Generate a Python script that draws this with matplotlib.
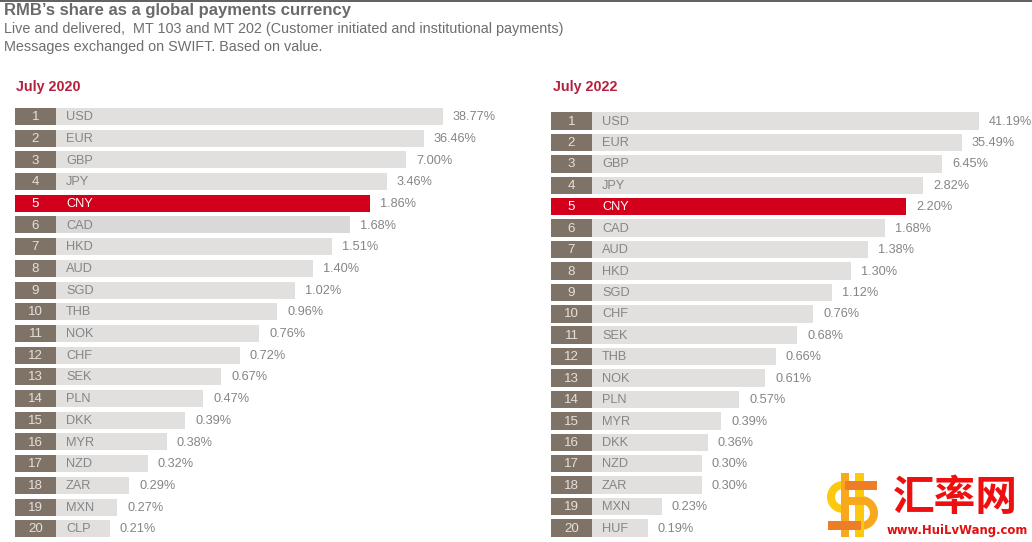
import matplotlib
matplotlib.use("Agg")
import matplotlib.pyplot as plt
from matplotlib.patches import Rectangle, Wedge

W, H = 1032, 542
GREY_TEXT = "#858585"
RANK = "#7f7368"
BAR = "#e1e0de"
RED = "#d2001a"

ranks = list(range(1, 21))
cur_2020 = ["USD","EUR","GBP","JPY","CNY","CAD","HKD","AUD","SGD","THB",
            "NOK","CHF","SEK","PLN","DKK","MYR","NZD","ZAR","MXN","CLP"]
share_2020 = ["38.77%","36.46%","7.00%","3.46%","1.86%","1.68%","1.51%","1.40%","1.02%","0.96%",
              "0.76%","0.72%","0.67%","0.47%","0.39%","0.38%","0.32%","0.29%","0.27%","0.21%"]
# drawn bar lengths (the source graphic is not to scale)
length_2020 = [428,409,391,372,355,335,317,298,280,262,244,225,206,188,170,151.5,133,114,102,95]

cur_2022 = ["USD","EUR","GBP","JPY","CNY","CAD","AUD","HKD","SGD","CHF",
            "SEK","THB","NOK","PLN","MYR","DKK","NZD","ZAR","MXN","HUF"]
share_2022 = ["41.19%","35.49%","6.45%","2.82%","2.20%","1.68%","1.38%","1.30%","1.12%","0.76%",
              "0.68%","0.66%","0.61%","0.57%","0.39%","0.36%","0.30%","0.30%","0.23%","0.19%"]
length_2022 = [428,411,391,372,355,334,317,300,281,262,246,225,214,188,170,157,151,151,111,97]

plt.rcParams["font.family"] = ["Liberation Sans", "DejaVu Sans"]
fig = plt.figure(figsize=(W / 100, H / 100), dpi=100, facecolor="white")


def panel(x0, x1, row1, row20, currencies, shares, lengths, rank_w, bar_h):
    step = (row20 - row1) / 19
    top, bottom = row1 - 14, row20 + 12
    ax = fig.add_axes([x0 / W, 1 - bottom / H, (x1 - x0) / W, (bottom - top) / H])
    ax.set_xlim(0, x1 - x0)
    ax.set_ylim(20 + (bottom - row20) / step, 1 - (row1 - top) / step)
    ax.axis("off")
    h = bar_h / step
    for r, c, s, l in zip(ranks, currencies, shares, lengths):
        hi = c == "CNY"
        ax.barh(r, l, height=h, color=RED if hi else ("#d9d9d9" if (c == "CAD" and x0 < 100) else BAR), lw=0)
        ax.barh(r, rank_w, height=h, color=RED if hi else RANK, lw=0)
        ax.text(rank_w / 2, r + 0.03, str(r), ha="center", va="center", fontsize=9.6,
                color="white" if hi else "#e4e0dc")
        ax.text(rank_w + 10, r + 0.03, c, ha="left", va="center", fontsize=9.2,
                color="white" if hi else GREY_TEXT)
        ax.annotate(s, (l, r + 0.03), xytext=(7.2, 0), textcoords="offset points", ha="left",
                    va="center", fontsize=9.2, color=GREY_TEXT)


panel(15, 530, 116.5, 528.7, cur_2020, share_2020, length_2020, 41, 17)
panel(551, 1032, 121, 528, cur_2022, share_2022, length_2022, 41, 17.5)

fig.text(4 / W, 1 - 15 / H, "RMB\u2019s share as a global payments currency", fontsize=12,
         fontweight="bold", color="#6a6a6a", va="baseline")
fig.text(4 / W, 1 - 33.5 / H, "Live and delivered,  MT 103 and MT 202 (Customer initiated and institutional payments)",
         fontsize=10.4, color="#6e6e6e", va="baseline")
fig.text(4 / W, 1 - 50.5 / H, "Messages exchanged on SWIFT. Based on value.",
         fontsize=10.4, color="#6e6e6e", va="baseline")
fig.text(16 / W, 1 - 91 / H, "July 2020", fontsize=10.3, fontweight="bold", color="#b5203c", va="baseline")
fig.text(553 / W, 1 - 91 / H, "July 2022", fontsize=10.3, fontweight="bold", color="#b5203c", va="baseline")

# page overlay in pixel coordinates: top rule and watermark logo
ov = fig.add_axes([0, 0, 1, 1], facecolor="none")
ov.set_xlim(0, W)
ov.set_ylim(H, 0)
ov.axis("off")
ov.plot([0, W], [0.5, 0.5], color="#444444", lw=1.2)

GOLD, AMBER, ORANGE = "#fdc90f", "#f8a81c", "#ee7d28"
ov.add_patch(Wedge((843, 497), 16, 90, 270, width=8, color=GOLD, lw=0))
ov.add_patch(Wedge((861, 513), 17, 270, 90, width=8, color=AMBER, lw=0))
for x, y, w, h, c in [(841, 473, 8, 64, AMBER), (855, 473, 9, 64, GOLD), (845, 481, 32, 9, ORANGE),
                      (828, 521, 33, 9, ORANGE), (842, 497, 24, 8, AMBER)]:
    ov.add_patch(Rectangle((x, y), w, h, color=c, lw=0))
ov.text(955, 498, "汇率网", fontsize=30, fontweight="bold", color="#ee1010", ha="center", va="center",
        family=["Noto Sans CJK SC", "DejaVu Sans"])
ov.text(957, 530.5, "www.HuiLvWang.com", fontsize=8.4, fontweight="bold", color="#e01010",
        ha="center", va="center", family=["DejaVu Sans"])

fig.savefig("out.png", dpi=100)
